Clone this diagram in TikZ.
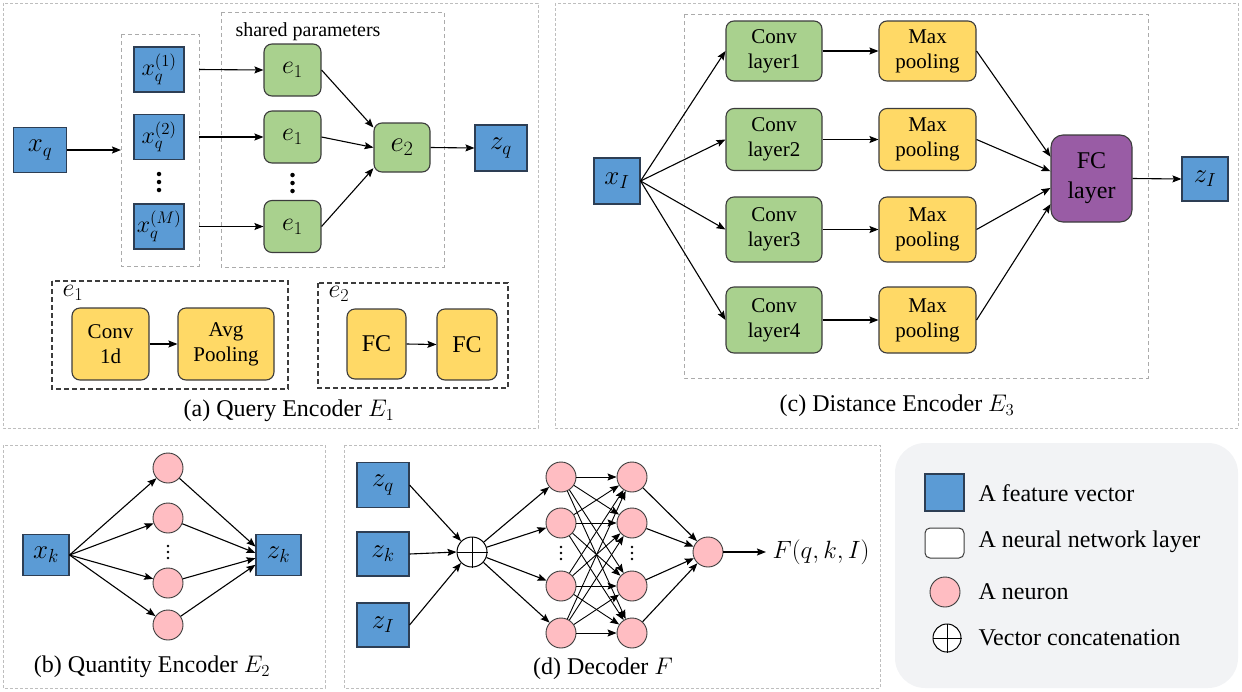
\RequirePackage{fix-cm}
\documentclass[tikz,border=0pt]{standalone}
\usepackage{fontspec}
\setmainfont{Liberation Serif}
\usetikzlibrary{arrows.meta}

\definecolor{featblue}{RGB}{91,155,213}
\definecolor{featedge}{RGB}{45,62,84}
\definecolor{layergreen}{RGB}{169,209,142}
\definecolor{layeryellow}{RGB}{255,217,102}
\definecolor{layerpurple}{RGB}{153,92,165}
\definecolor{neuronpink}{RGB}{255,189,194}
\definecolor{edgegray}{RGB}{60,60,60}
\definecolor{panelgray}{RGB}{190,190,190}
\definecolor{legendbg}{RGB}{242,243,245}

\newcommand\fsz[2]{\fontsize{#1}{#2}\rmfamily\selectfont}

\tikzset{
  feat/.style={draw=featedge, fill=featblue, line width=1.1pt, inner sep=0pt,
    font=\fsz{27}{31}},
  subfeat/.style={feat, font=\fsz{24}{28}},
  layerbox/.style={draw=edgegray, rounded corners=8pt, line width=1.1pt,
    inner sep=0pt, align=center, font=\fsz{21}{25}},
  greenbox/.style={layerbox, fill=layergreen},
  yellowbox/.style={layerbox, fill=layeryellow},
  neuron/.style={circle, draw=edgegray, fill=neuronpink, line width=0.9pt,
    minimum size=30pt, inner sep=0pt},
  catnode/.style={circle, draw=black, fill=white, line width=1pt,
    minimum size=30pt, inner sep=0pt},
  panel/.style={draw=panelgray, dash pattern=on 3pt off 2pt, line width=0.9pt},
  groupbox/.style={draw=panelgray!90!black, dash pattern=on 4pt off 3pt,
    line width=0.9pt, inner sep=0pt},
  detailbox/.style={draw=edgegray, dash pattern=on 5pt off 3pt,
    line width=1.2pt, inner sep=0pt},
  caption/.style={font=\fsz{24}{28}},
  conn/.style={line width=1.1pt, -{Stealth[length=9pt,width=7pt,inset=1.5pt]}},
  vdot/.style={fill=black, circle, inner sep=0pt, minimum size=4.5pt},
  sdot/.style={fill=black, circle, inner sep=0pt, minimum size=2.6pt},
}

\begin{document}
\begin{tikzpicture}[x=1pt,y=-1pt]
\useasboundingbox (0,0) rectangle (1242,691);

% ---------------- panel outlines ----------------
\draw[panel] (3,3) rectangle (538,428);
\draw[panel] (555,3) rectangle (1238,428);
\draw[panel] (3,445) rectangle (325,688);
\draw[panel] (344,445) rectangle (880,688);
\fill[legendbg, rounded corners=30pt] (895,443) rectangle (1238,688);

% ---------------- (a) Query Encoder ----------------
\draw[groupbox] (121,34) rectangle (199,266);
\coordinate (xgrpw) at (121,150);
\coordinate (xgrpe) at (199,150);
\draw[groupbox] (221,12) rectangle (444,267);
\node[font=\fsz{20}{24}] (sharedlbl) at (308,32) {shared parameters};

\node[feat, minimum width=53pt, minimum height=45pt] (xq) at (40,150) {$x_q$};
\node[subfeat, minimum width=50pt, minimum height=45pt] (xq1) at (159,69.5) {$x_q^{(1)}$};
\node[subfeat, minimum width=50pt, minimum height=45pt] (xq2) at (159,137) {$x_q^{(2)}$};
\node[subfeat, minimum width=50pt, minimum height=45pt] (xqM) at (159,226.5) {$x_q^{(M)}$};
\node[vdot] (da1) at (159,174) {};
\node[vdot] (da2) at (159,182) {};
\node[vdot] (da3) at (159,190) {};

\node[greenbox, minimum width=57pt, minimum height=52pt, font=\fsz{26}{30}] (e1a) at (292.5,70) {$e_1$};
\node[greenbox, minimum width=57pt, minimum height=52pt, font=\fsz{26}{30}] (e1b) at (292.5,137) {$e_1$};
\node[greenbox, minimum width=57pt, minimum height=52pt, font=\fsz{26}{30}] (e1c) at (292.5,226.5) {$e_1$};
\node[vdot] (db1) at (292.5,175) {};
\node[vdot] (db2) at (292.5,183) {};
\node[vdot] (db3) at (292.5,191) {};
\node[greenbox, minimum width=56pt, minimum height=49pt, font=\fsz{29}{33}] (e2) at (402,147.5) {$e_2$};
\node[feat, minimum width=52pt, minimum height=46pt] (zq) at (501,148) {$z_q$};

\draw[conn] (xq.east) -- (xgrpw);
\draw[conn] (xq1 -| xgrpe) -- (e1a.west);
\draw[conn] (xq2 -| xgrpe) -- (e1b.west);
\draw[conn] (xqM -| xgrpe) -- (e1c.west);
\draw[conn] (e1a.east) -- (e2.145);
\draw[conn] (e1b.east) -- (e2.west);
\draw[conn] (e1c.east) -- (e2.216);
\draw[conn] (e2.east) -- (zq.west);

% details of e1 and e2
\draw[detailbox] (52,281) rectangle (288,389);
\node[font=\fsz{26}{30}] (e1lbl) at (73,293) {$e_1$};
\node[yellowbox, minimum width=77pt, minimum height=72pt] (conv1d) at (110.5,344) {Conv\\1d};
\node[yellowbox, minimum width=96pt, minimum height=72pt] (avgpool) at (226,344) {Avg\\Pooling};
\draw[conn] (conv1d.east) -- (avgpool.west);

\draw[detailbox] (318,283) rectangle (508,388);
\node[font=\fsz{26}{30}] (e2lbl) at (339,294) {$e_2$};
\node[yellowbox, minimum width=59pt, minimum height=70pt, font=\fsz{24}{28}] (fca) at (376.5,344) {FC};
\node[yellowbox, minimum width=60pt, minimum height=71pt, font=\fsz{24}{28}] (fcb) at (467,344.5) {FC};
\draw[conn] (fca.east) -- (fcb.west);

\node[caption] (capa) at (289,411) {(a) Query Encoder $E_1$};

% ---------------- (c) Distance Encoder ----------------
\draw[groupbox] (684,14) rectangle (1148,378);
\node[feat, minimum width=46pt, minimum height=46pt] (xI) at (617,181) {$x_I$};

\node[greenbox, minimum width=96pt, minimum height=60pt] (conv1) at (774,51) {Conv\\layer1};
\node[greenbox, minimum width=96pt, minimum height=62pt] (conv2) at (774,139.5) {Conv\\layer2};
\node[greenbox, minimum width=96pt, minimum height=65pt] (conv3) at (774,229.5) {Conv\\layer3};
\node[greenbox, minimum width=96pt, minimum height=66pt] (conv4) at (774,320) {Conv\\layer4};
\node[yellowbox, minimum width=97pt, minimum height=60pt] (pool1) at (927.5,51) {Max\\pooling};
\node[yellowbox, minimum width=97pt, minimum height=62pt] (pool2) at (927.5,139.5) {Max\\pooling};
\node[yellowbox, minimum width=97pt, minimum height=65pt] (pool3) at (927.5,229.5) {Max\\pooling};
\node[yellowbox, minimum width=97pt, minimum height=66pt] (pool4) at (927.5,320) {Max\\pooling};
\node[layerbox, fill=layerpurple, minimum width=81pt, minimum height=87pt,
  rounded corners=12pt, font=\fsz{24}{30}] (fcl) at (1091.5,178.5) {FC\\layer};
\node[feat, minimum width=46pt, minimum height=44pt] (zI) at (1205,179) {$z_I$};

\foreach \i in {1,...,4} {
  \draw[conn] (xI.east) -- (conv\i.west);
  \draw[conn] (conv\i.east) -- (pool\i.west);
}
\draw[conn] (pool1.east) -- (fcl.152);
\draw[conn] (pool2.east) -- (fcl.170);
\draw[conn] (pool3.east) -- (fcl.193);
\draw[conn] (pool4.east) -- (fcl.212);
\draw[conn] (fcl.east) -- (zI.west);

\node[caption] (capc) at (897,406) {(c) Distance Encoder $E_3$};

% ---------------- (b) Quantity Encoder ----------------
\node[feat, minimum width=46pt, minimum height=41pt] (xk) at (46,555) {$x_k$};
\node[feat, minimum width=45pt, minimum height=41pt] (zk) at (278.5,555) {$z_k$};
\node[neuron] (qn1) at (168,468) {};
\node[neuron] (qn2) at (168,518) {};
\node[neuron] (qn3) at (168,583) {};
\node[neuron] (qn4) at (168,625) {};
\node[sdot] (qd1) at (168,546) {};
\node[sdot] (qd2) at (168,552) {};
\node[sdot] (qd3) at (168,558) {};
\foreach \i in {1,...,4} \draw[conn] (xk.east) -- (qn\i);
\draw[conn] (qn1) -- (zk.160);
\draw[conn] (qn2) -- (zk.175);
\draw[conn] (qn3) -- (zk.188);
\draw[conn] (qn4) -- (zk.203);

\node[caption] (capb) at (152,667) {(b) Quantity Encoder $E_2$};

% ---------------- (d) Decoder ----------------
\node[feat, minimum width=52pt, minimum height=45pt] (dzq) at (383,485) {$z_q$};
\node[feat, minimum width=52pt, minimum height=44pt] (dzk) at (383,554) {$z_k$};
\node[feat, minimum width=52pt, minimum height=44pt] (dzI) at (383,625) {$z_I$};
\node[catnode] (cat) at (472,552) {};
\draw[line width=1pt] (cat.north) -- (cat.south) (cat.west) -- (cat.east);

\foreach \y [count=\i] in {477,523,586,633} {
  \node[neuron] (ha\i) at (561,\y) {};
  \node[neuron] (hb\i) at (632,\y) {};
}
\node[sdot] (dd1) at (561,547) {};
\node[sdot] (dd2) at (561,553) {};
\node[sdot] (dd3) at (561,559) {};
\node[sdot] (de1) at (632,547) {};
\node[sdot] (de2) at (632,553) {};
\node[sdot] (de3) at (632,559) {};
\node[neuron] (outn) at (708,552) {};
\coordinate (outend) at (766,552);
\node[font=\fsz{25}{29}, anchor=west] (flabel) at (769,552) {$F(q,k,I)$};

\draw[conn] (dzq.east) -- (cat.135);
\draw[conn] (dzk.east) -- (cat.west);
\draw[conn] (dzI.east) -- (cat.225);
\foreach \i in {1,...,4} {
  \draw[conn] (cat) -- (ha\i);
  \foreach \j in {1,...,4} \draw[conn, line width=0.9pt] (ha\i) -- (hb\j);
  \draw[conn] (hb\i) -- (outn);
}
\draw[conn] (outn.east) -- (outend);

\node[caption] (capd) at (603,669) {(d) Decoder $F$};

% ---------------- legend ----------------
\node[feat, minimum width=39pt, minimum height=37pt] (lgfeat) at (944.5,492.5) {};
\node[draw=edgegray, fill=white, rounded corners=5pt, line width=1pt,
  minimum width=39pt, minimum height=30pt, inner sep=0pt] (lglayer) at (944.5,543) {};
\node[neuron] (lgneuron) at (945,592) {};
\node[catnode, minimum size=28pt] (lgcat) at (947,638) {};
\draw[line width=1pt] (lgcat.north) -- (lgcat.south) (lgcat.west) -- (lgcat.east);

\node[caption, anchor=west] (lt1) at (975,493) {A feature vector};
\node[caption, anchor=west] (lt2) at (975,542) {A neural network layer};
\node[caption, anchor=west] (lt3) at (975,592) {A neuron};
\node[caption, anchor=west] (lt4) at (975,638) {Vector concatenation};
\end{tikzpicture}
\end{document}
